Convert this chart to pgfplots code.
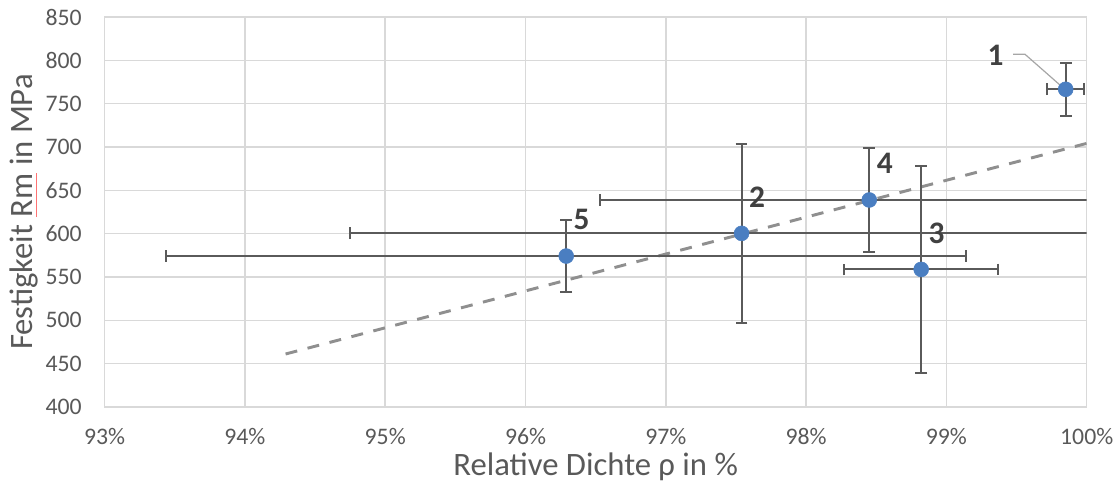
\documentclass[border=0pt]{standalone}
\usepackage{pgfplots}
\pgfplotsset{compat=1.18}
\usepackage{pgfplotstable}
\usepackage{fontspec}
\setmainfont{Carlito}
\definecolor{gridgray}{HTML}{D9D9D9}
\definecolor{tickgray}{HTML}{595959}
\definecolor{errgray}{HTML}{5A5A5A}
\definecolor{trendgray}{HTML}{8F8F8F}
\definecolor{markblue}{HTML}{4A7EC1}
\definecolor{lblgray}{HTML}{404040}
\definecolor{leadgray}{HTML}{A6A6A6}

\pgfplotstableread{
x y ex ey
99.85 766.6 0.13 30.5
97.54 600.4 2.79 103
98.82 558.8 0.55 119
98.45 638.9 1.92 60.5
96.29 574.2 2.85 41.6
}\pts

\pgfplotstableread{
x y
94.29 461.2
100.0 704.2
}\trend

\begin{document}
\begin{tikzpicture}
\begin{axis}[
  scale only axis,
  width=736.5pt, height=292.5pt,
  xmin=93, xmax=100, ymin=400, ymax=850,
  xtick={93,94,95,96,97,98,99,100},
  xticklabels={93\%,94\%,95\%,96\%,97\%,98\%,99\%,100\%},
  ytick={400,450,...,850},
  major tick length=0pt,
  grid=major,
  major grid style={draw=gridgray, line width=1.1pt},
  axis line style={draw=gridgray, line width=1.1pt},
  /pgf/number format/assume math mode=true,
  yticklabel style={font=\fontsize{17.8pt}{20pt}\selectfont, text=tickgray, inner sep=0pt, anchor=east, xshift=-17pt},
  xticklabel style={font=\fontsize{17.8pt}{20pt}\selectfont, text=tickgray, inner sep=0pt, anchor=north, yshift=-16pt},
  xlabel={Relative Dichte ρ in \%},
  ylabel={Festigkeit Rm\llap{\textcolor{red!55}{\rule[-3pt]{1.34em}{0.6pt}}} in MPa},
  xlabel style={font=\fontsize{24.5pt}{28pt}\selectfont, text=tickgray, inner sep=0pt, at={(axis description cs:0.5,0)}, anchor=base, yshift=-51.5pt},
  ylabel style={font=\fontsize{24.5pt}{28pt}\selectfont, text=tickgray, inner sep=0pt, at={(axis description cs:0,0.5)}, anchor=base, yshift=54pt},
]
\coordinate (BL) at (rel axis cs:0,0);
\coordinate (TR) at (rel axis cs:1,1);
\addplot[trendgray, line width=2.2pt, dash pattern=on 9pt off 8pt] table {\trend};
\addplot[only marks, mark=none, draw=none,
  error bars/.cd, x dir=both, y dir=both, x explicit, y explicit,
  error bar style={color=errgray, line width=1.5pt},
  error mark options={color=errgray, line width=1.5pt, mark size=4.4pt, rotate=90}]
  table[x=x, y=y, x error=ex, y error=ey] {\pts};
\addplot[only marks, mark=*, mark size=5.6pt, mark options={fill=markblue, draw=markblue}] table[x=x,y=y] {\pts};
\draw[color=leadgray, line width=0.9pt] (axis cs:99.475,807) -- (axis cs:99.56,807) -- (axis cs:99.82,770);
\begin{scope}[every node/.style={font=\fontsize{23.5pt}{26pt}\selectfont\bfseries, text=lblgray, inner sep=0pt}]
\node at (axis cs:99.35,806) {1};
\node at (axis cs:97.65,642.3) {2};
\node at (axis cs:98.93,600.8) {3};
\node at (axis cs:98.56,681.5) {4};
\node at (axis cs:96.40,617) {5};
\end{scope}
\end{axis}
\pgfresetboundingbox
\path ([xshift=-78.45pt,yshift=-58.5pt]BL) rectangle ([xshift=22.7pt,yshift=12.75pt]TR);
\end{tikzpicture}
\end{document}
